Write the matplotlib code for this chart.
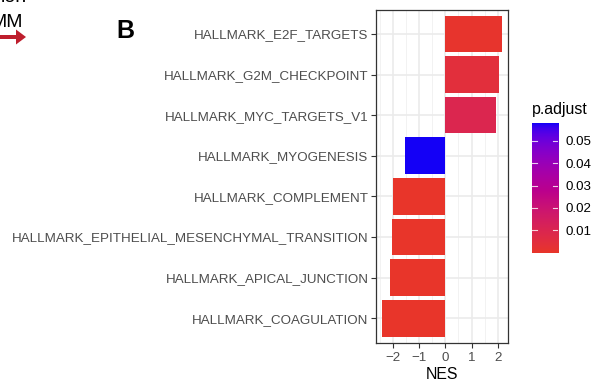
import numpy as np
import matplotlib
matplotlib.use("Agg")
import matplotlib.pyplot as plt
from matplotlib.colors import ListedColormap, Normalize
from matplotlib.patches import FancyArrow

plt.rcParams['font.family'] = ['Liberation Sans', 'DejaVu Sans']

# Hallmark gene sets, top to bottom
pathways = [
    "HALLMARK_E2F_TARGETS",
    "HALLMARK_G2M_CHECKPOINT",
    "HALLMARK_MYC_TARGETS_V1",
    "HALLMARK_MYOGENESIS",
    "HALLMARK_COMPLEMENT",
    "HALLMARK_EPITHELIAL_MESENCHYMAL_TRANSITION",
    "HALLMARK_APICAL_JUNCTION",
    "HALLMARK_COAGULATION",
]
nes = [2.15, 2.04, 1.92, -1.55, -2.01, -2.05, -2.11, -2.43]
p_adjust = [0.0008, 0.0045, 0.0095, 0.0578, 0.0001, 0.00002, 0.00005, 0.000001]

x_ticks = [-2, -1, 0, 1, 2]
cbar_ticks = [0.01, 0.02, 0.03, 0.04, 0.05]

LOW_COLOR = "#E8352A"
HIGH_COLOR = "#1400F6"


# --- Lab-space gradient (like ggplot's continuous scale) ---
def _srgb_to_lin(c):
    return np.where(c <= 0.04045, c / 12.92, ((c + 0.055) / 1.055) ** 2.4)


def _lin_to_srgb(c):
    c = np.clip(c, 0, 1)
    return np.where(c <= 0.0031308, 12.92 * c, 1.055 * c ** (1 / 2.4) - 0.055)


M = np.array([[0.4124, 0.3576, 0.1805],
              [0.2126, 0.7152, 0.0722],
              [0.0193, 0.1192, 0.9505]])
WHITE = np.array([0.95047, 1.0, 1.08883])


def _f(t):
    d = 6 / 29
    return np.where(t > d ** 3, np.cbrt(t), t / (3 * d * d) + 4 / 29)


def _finv(t):
    d = 6 / 29
    return np.where(t > d, t ** 3, 3 * d * d * (t - 4 / 29))


def hex_to_lab(h):
    rgb = np.array([int(h[i:i + 2], 16) / 255 for i in (1, 3, 5)])
    xyz = M @ _srgb_to_lin(rgb) / WHITE
    fx, fy, fz = _f(xyz)
    return np.array([116 * fy - 16, 500 * (fx - fy), 200 * (fy - fz)])


def lab_to_rgb(lab):
    L, a, b = lab
    fy = (L + 16) / 116
    fx = fy + a / 500
    fz = fy - b / 200
    xyz = np.array([_finv(fx), _finv(fy), _finv(fz)]) * WHITE
    return _lin_to_srgb(np.linalg.solve(M, xyz))


lab_lo, lab_hi = hex_to_lab(LOW_COLOR), hex_to_lab(HIGH_COLOR)
cmap = ListedColormap([lab_to_rgb(lab_lo + t * (lab_hi - lab_lo))
                       for t in np.linspace(0, 1, 256)])
norm = Normalize(vmin=min(p_adjust), vmax=max(p_adjust))

# --- figure ---
W, H = 591, 382
fig = plt.figure(figsize=(W / 100, H / 100), dpi=100)

ax = fig.add_axes([375.5 / W, 1 - 342.7 / H, 132.2 / W, 333.2 / H])
n = len(pathways)
ypos = np.arange(n)[::-1] + 1
ax.barh(ypos, nes, height=0.9, color=cmap(norm(np.array(p_adjust))),
        zorder=3, linewidth=0)

ax.set_xlim(-2.66, 2.38)
ax.set_ylim(0.4, n + 0.6)
ax.set_yticks(ypos)
ax.set_yticklabels(pathways)
ax.set_xticks(x_ticks)
ax.set_xticklabels([f"\u2212{abs(t)}" if t < 0 else str(t) for t in x_ticks])
ax.set_xticks([-2.5, -1.5, -0.5, 0.5, 1.5], minor=True)
ax.tick_params(axis='both', which='major', length=3.6, width=0.8,
               color='#333333', labelsize=9.65, labelcolor='#4D4D4D', pad=1.5)
ax.tick_params(axis='x', which='major', pad=3)
ax.tick_params(axis='x', which='minor', length=0)
ax.grid(True, which='major', color='#EBEBEB', linewidth=1.2, zorder=0)
ax.grid(True, which='minor', axis='x', color='#F2F2F2', linewidth=0.7, zorder=0)
ax.set_axisbelow(True)
for s in ax.spines.values():
    s.set_color('#333333')
    s.set_linewidth(0.9)
ax.set_xlabel("NES", fontsize=11.4, color='black', labelpad=2)

# colour bar legend
cax = fig.add_axes([531.7 / W, 1 - 252.7 / H, 26.3 / W, 129.4 / H])
grad = np.linspace(norm.vmin, norm.vmax, 300).reshape(-1, 1)
cax.imshow(grad, cmap=cmap, norm=norm, aspect='auto', origin='lower',
           extent=[0, 1, norm.vmin, norm.vmax])
cax.set_xlim(0, 1)
cax.set_ylim(norm.vmin, norm.vmax)
cax.set_xticks([])
cax.yaxis.tick_right()
cax.set_yticks(cbar_ticks)
cax.set_yticklabels([f"{t:.2f}" for t in cbar_ticks])
cax.tick_params(axis='y', length=0, labelsize=9.65, labelcolor='black', pad=5.5)
for t in cbar_ticks:
    cax.plot([0, 0.2], [t, t], color='white', lw=0.8, alpha=0.8)
    cax.plot([0.8, 1], [t, t], color='white', lw=0.8, alpha=0.8)
for s in cax.spines.values():
    s.set_visible(False)
fig.text(532 / W, 1 - 114 / H, "p.adjust", fontsize=11.4, color='black',
         ha='left', va='baseline')

# panel label and neighbouring legend fragment
over = fig.add_axes([0, 0, 1, 1], facecolor='none')
over.set_xlim(0, W)
over.set_ylim(H, 0)
over.axis('off')
over.text(116, 38.5, "B", fontsize=18, fontweight='bold', ha='left',
          va='baseline', color='black')
over.text(23, 26.7, "MM", fontsize=14, ha='right', va='baseline', color='black')
over.text(27, 2.5, "ion", fontsize=14, ha='right', va='baseline', color='black')
over.add_patch(FancyArrow(-5, 37, 31, 0, width=4, head_width=15,
                          head_length=10, length_includes_head=True,
                          color='#BE1E2D', linewidth=0))

fig.savefig("out.png", dpi=100)
